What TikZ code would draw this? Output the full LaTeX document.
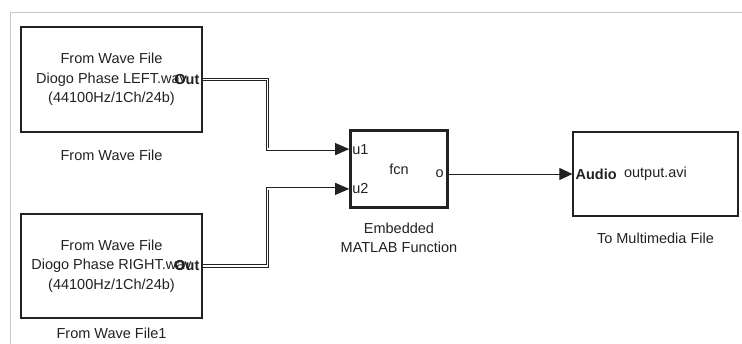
\documentclass[tikz,border=0pt]{standalone}
\usepackage{fontspec}
\setmainfont{Liberation Sans}
\usetikzlibrary{positioning,arrows.meta,calc}
\definecolor{frame}{HTML}{C8C8C8}
\definecolor{ink}{HTML}{222222}

\begin{document}
\begin{tikzpicture}[x=1pt,y=-1pt,font=\fontsize{14.5}{19.5}\selectfont,text=ink,
    block/.style={draw=ink,line width=1.2pt,inner sep=0pt,align=center},
    bus/.style={draw=ink,double,double distance=1.3pt,line width=0.9pt,-{Triangle[length=14pt,width=12pt]}},
    wire/.style={draw=ink,line width=0.9pt,-{Triangle[length=13pt,width=12pt]}},
    port/.style={inner sep=0pt},
    lbl/.style={inner sep=0pt,anchor=base,align=center}]
        \useasboundingbox (0,0) rectangle (742,344);
        \draw[frame,line width=1pt] (10,344) -- (10,13) -- (742,13);
        \node[block,minimum width=181pt,minimum height=105pt] (wav1) at (111.5,79.5) {From Wave File\\Diogo Phase LEFT.wav\\(44100Hz/1Ch/24b)};
        \node[block,minimum width=181pt,minimum height=104pt] (wav2) at (111.5,266) {From Wave File\\Diogo Phase RIGHT.wav\\(44100Hz/1Ch/24b)};
        \node[block,line width=2.6pt,minimum width=97pt,minimum height=77pt] (fcn) at (399,169) {fcn};
        \node[block,minimum width=165pt,minimum height=84pt] (audio) at (655.5,174) {output.avi};
        \node[port,anchor=east] (out1) at ($(wav1.east)+(-3,0)$) {\textbf{Out}};
        \node[port,anchor=east] (out2) at ($(wav2.east)+(-3,0)$) {\textbf{Out}};
        \coordinate (in1) at ($(fcn.north west)!0.25!(fcn.south west)$);
        \coordinate (in2) at ($(fcn.north west)!0.75!(fcn.south west)$);
        \coordinate (o) at (fcn.east |- audio.west);
        \node[port,anchor=west] (u1) at ($(in1)+(3,0)$) {u1};
        \node[port,anchor=west] (u2) at ($(in2)+(3,0)$) {u2};
        \node[port,anchor=east] (oport) at ($(o)+(-5,0)$) {o};
        \node[port,anchor=west] (ain) at ($(audio.west)+(3,0)$) {\textbf{Audio}};
        \draw[bus] (wav1.east) -- ++(65,0) |- (in1);
        \draw[bus] (wav2.east) -- ++(65,0) |- (in2);
        \draw[wire] (o) -- (audio.west);
        \node[lbl] (wav1lbl) at ($(wav1.south)+(0,28)$) {From Wave File};
        \node[lbl] (wav2lbl) at ($(wav2.south)+(0,20)$) {From Wave File1};
        \node[lbl] (fcnlbl) at ($(fcn.south)+(0,44)$) {Embedded\\MATLAB Function};
        \node[lbl] (audiolbl) at ($(audio.south)+(0,27)$) {To Multimedia File};
      \end{tikzpicture}
\end{document}
